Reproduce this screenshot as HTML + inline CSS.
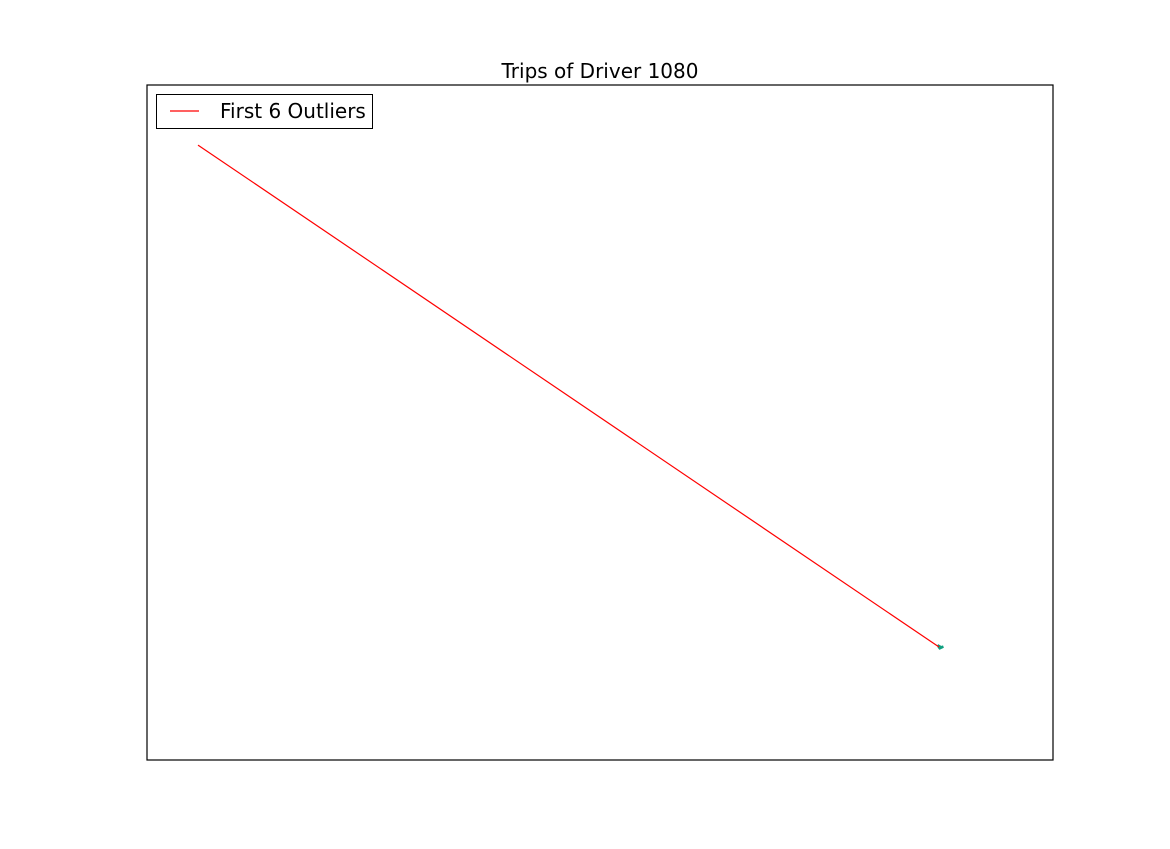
<!DOCTYPE html>
<html><head><meta charset="utf-8"><style>
body{margin:0;background:#fff;}
svg text{font-family:"DejaVu Sans","Liberation Sans",sans-serif;}
</style></head><body>
<svg id="chart" width="1170" height="844" xmlns="http://www.w3.org/2000/svg">
<rect width="1170" height="844" fill="#fff"/>
<text x="600" y="78" font-size="20" text-anchor="middle">Trips of Driver 1080</text>
<g id="marks"></g>
<rect x="147" y="85" width="906" height="675" fill="none" stroke="#000" stroke-width="1.2"/>
<g>
<rect x="156.5" y="94.5" width="216" height="34" fill="#fff" stroke="#000" stroke-width="1"/>
<line x1="170" y1="111" x2="199" y2="111" stroke="red" stroke-width="1.2"/>
<text x="220" y="118" font-size="20">First 6 Outliers</text>
</g>
</svg>
<script>
const outlierX = [56.3, 874.2];
const outlierY = [911, 167.4];
const tripX = [872.5, 876.5, 879, 875, 873.5];
const tripY = [170, 167, 168, 165.5, 168];
const sx = v => 147 + v / 1000 * 906;
const sy = v => 760 - v / 1000 * 675;
const g = document.getElementById('marks');
const NS = 'http://www.w3.org/2000/svg';
function poly(xs, ys, color, w) {
  const p = document.createElementNS(NS, 'polyline');
  p.setAttribute('points', xs.map((x, i) => sx(x) + ',' + sy(ys[i])).join(' '));
  p.setAttribute('fill', 'none');
  p.setAttribute('stroke', color);
  p.setAttribute('stroke-width', w);
  g.appendChild(p);
  return p;
}
const t = poly(tripX, tripY, '#10a080', 2.5);


const o = poly(outlierX, outlierY, 'red', 1.2);


</script>
</body></html>
